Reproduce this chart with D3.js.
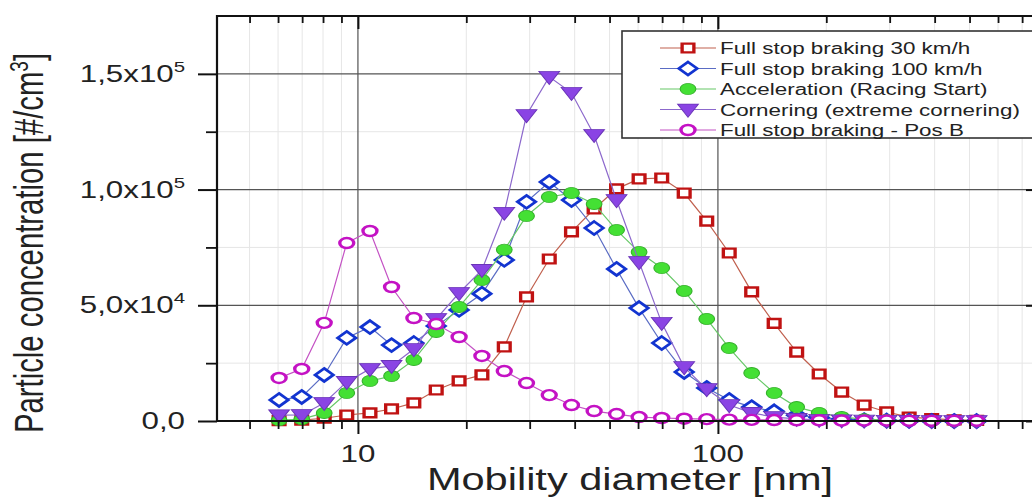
<!DOCTYPE html>
<html><head><meta charset="utf-8">
<script src="https://cdn.jsdelivr.net/npm/d3@7/dist/d3.min.js"></script>
<style>html,body{margin:0;padding:0;background:#fff;overflow:hidden}svg{display:block}</style>
</head><body><svg id="c" width="1032" height="498"></svg>
<script>
const diameters = [6.04, 6.98, 8.06, 9.31, 10.8, 12.4, 14.3, 16.5, 19.1, 22.1, 25.5, 29.4, 34.0, 39.2, 45.3, 52.3, 60.4, 69.8, 80.6, 93.1, 107.5, 124.1, 143.3, 165.5, 191.1, 220.7, 254.8, 294.3, 339.8, 392.4, 453.2, 523.3];
const brake30 = [200, 400, 1200, 2600, 3500, 5200, 7800, 13400, 17300, 19900, 32000, 53600, 70000, 81700, 91600, 100300, 104600, 105000, 98500, 86400, 72600, 55800, 42200, 29800, 20300, 12500, 6900, 3900, 1700, 1000, 500, 300];
const brake100 = [9100, 10400, 19900, 35900, 40600, 32800, 33700, 41000, 48000, 55000, 69600, 94700, 103300, 95500, 83400, 65700, 48800, 33700, 21200, 14300, 9100, 6000, 4200, 2500, 1500, 800, 400, 200, 100, 50, 20, 0];
const accel = [300, 800, 3500, 12100, 17300, 19400, 26400, 38500, 49300, 60900, 74000, 88600, 96800, 98500, 93800, 82500, 73000, 66100, 56200, 44100, 31500, 20700, 12100, 6000, 3500, 1700, 800, 400, 200, 100, 50, 0];
const cornering = [2500, 2600, 7800, 16900, 22500, 23800, 31100, 44100, 55300, 65300, 90000, 132200, 148700, 141800, 123600, 95500, 68700, 42400, 23300, 13800, 6900, 3500, 1700, 900, 500, 300, 200, 100, 50, 0, 0, 0];
const posB = [18600, 22500, 42400, 76900, 82100, 57900, 44500, 41900, 36300, 28100, 21600, 16400, 11200, 6900, 4300, 3000, 1700, 1300, 1000, 800, 600, 500, 400, 300, 300, 200, 200, 200, 100, 100, 100, 100];
const seriesNames = ["Full stop braking 30 km/h", "Full stop braking 100 km/h", "Acceleration (Racing Start)", "Cornering (extreme cornering)", "Full stop braking - Pos B"];
const xMajorTicks = [10, 100];
const xMinorTicks = [5, 6, 7, 8, 9, 20, 30, 40, 50, 60, 70, 80, 90, 200, 300, 400, 500, 600, 700];
const yMajorTicks = [0, 50000, 100000, 150000];
const yMinorTicks = [25000, 75000, 125000];
const yTickMain = ["0,0", "5,0x10", "1,0x10", "1,5x10"];
const yTickExp = ["", "4", "5", "5"];

const SX = 1.36, MSX = 1.4;
const FONT = "'Liberation Sans', Arial, sans-serif";
const svg = d3.select("#c");
const L = 217, R = 1035, T = 16, B = 421;
const x = d3.scaleLog().domain([4.06, 760]).range([L, R]);
const y = d3.scaleLinear().domain([0, 175000]).range([B, T]);

// grid
const grid = svg.append("g");
grid.selectAll(".vmin").data(xMinorTicks).join("line")
  .attr("x1", d => x(d)).attr("x2", d => x(d)).attr("y1", T).attr("y2", B)
  .attr("stroke", "#e6e6e6").attr("stroke-width", 1);
grid.selectAll(".hmin").data(yMinorTicks).join("line")
  .attr("x1", L).attr("x2", R).attr("y1", d => y(d)).attr("y2", d => y(d))
  .attr("stroke", "#e6e6e6").attr("stroke-width", 1);
grid.selectAll(".vmaj").data(xMajorTicks).join("line")
  .attr("x1", d => x(d)).attr("x2", d => x(d)).attr("y1", T).attr("y2", B)
  .attr("stroke", "#606060").attr("stroke-width", 1.3);
grid.selectAll(".hmaj").data(yMajorTicks.slice(1)).join("line")
  .attr("x1", L).attr("x2", R).attr("y1", d => y(d)).attr("y2", d => y(d))
  .attr("stroke", "#555").attr("stroke-width", 1.3);

// series
const colors = [
  {line: "#c0604e", stroke: "#c01212", fill: "#fff", sw: 2.4},
  {line: "#5a6cc4", stroke: "#1234d0", fill: "#fff", sw: 2.4},
  {line: "#66c866", stroke: "#34b02a", fill: "#44e034", sw: 0.8},
  {line: "#8c68cc", stroke: "#6a34b8", fill: "#8a44e4", sw: 0.8},
  {line: "#c452c4", stroke: "#c412c4", fill: "#fff", sw: 2.4}
];
const shapes = [
  "M-4.2,-4.4L4.2,-4.4L4.2,4.4L-4.2,4.4Z",
  "M0,-6.5L6.5,0L0,6.5L-6.5,0Z",
  "M5.6,0A5.6,5.6 0 1,1 -5.6,0A5.6,5.6 0 1,1 5.6,0Z",
  "M-7.4,-5.4L7.4,-5.4L0,7.6Z",
  "M5,0A5,5 0 1,1 -5,0A5,5 0 1,1 5,0Z"
];
const allSeries = [brake30, brake100, accel, cornering, posB];
const line = d3.line().x(d => x(d.d)).y(d => y(d.v));
allSeries.forEach((vals, i) => {
  const pts = diameters.map((d, j) => ({d, v: vals[j]}));
  const g = svg.append("g");
  g.append("path").attr("d", line(pts)).attr("fill", "none")
    .attr("stroke", colors[i].line).attr("stroke-width", 1.2);
  g.selectAll("path.m").data(pts).join("path").attr("class", "m")
    .attr("d", shapes[i])
    .attr("transform", d => `translate(${x(d.d)},${y(d.v)}) scale(${MSX},1)`)
    .attr("fill", colors[i].fill).attr("stroke", colors[i].stroke)
    .attr("stroke-width", colors[i].sw);
});

// axes
function styleAxis(g, w) {
  g.select(".domain").remove();
  g.selectAll(".tick line").attr("stroke", "#111").attr("stroke-width", w);
  g.selectAll(".tick text").remove();
}
svg.append("g").attr("transform", `translate(0,${B})`)
  .call(d3.axisBottom(x).tickValues(xMajorTicks).tickSize(13).tickFormat("")).call(g => styleAxis(g, 2));
svg.append("g").attr("transform", `translate(0,${B})`)
  .call(d3.axisBottom(x).tickValues(xMinorTicks).tickSize(8).tickFormat("")).call(g => styleAxis(g, 1.8));
svg.append("g").attr("transform", `translate(0,${T})`)
  .call(d3.axisBottom(x).tickValues(xMajorTicks).tickSize(13).tickFormat("")).call(g => styleAxis(g, 2));
svg.append("g").attr("transform", `translate(0,${T})`)
  .call(d3.axisBottom(x).tickValues(xMinorTicks).tickSize(7).tickFormat("")).call(g => styleAxis(g, 1.8));
svg.append("g").attr("transform", `translate(${L},0)`)
  .call(d3.axisLeft(y).tickValues(yMajorTicks).tickSize(19).tickFormat("")).call(g => styleAxis(g, 2));
svg.append("g").attr("transform", `translate(${L},0)`)
  .call(d3.axisLeft(y).tickValues(yMinorTicks).tickSize(11).tickFormat("")).call(g => styleAxis(g, 1.8));
svg.append("g").attr("transform", `translate(${R},0)`)
  .call(d3.axisLeft(y).tickValues(yMajorTicks).tickSize(9).tickFormat("")).call(g => styleAxis(g, 2));

svg.append("line").attr("x1", L).attr("x2", L).attr("y1", T - 1).attr("y2", B + 1).attr("stroke", "#111").attr("stroke-width", 2.2);
svg.append("line").attr("x1", L).attr("x2", R).attr("y1", B).attr("y2", B).attr("stroke", "#111").attr("stroke-width", 2.2);
svg.append("line").attr("x1", L).attr("x2", R).attr("y1", T).attr("y2", T).attr("stroke", "#111").attr("stroke-width", 2);

// tick labels
yMajorTicks.forEach((v, i) => {
  const t = svg.append("text").attr("transform", `translate(185,${y(v) + 8}) scale(${SX},1)`)
    .attr("text-anchor", "end").attr("font-family", FONT).attr("font-size", 23).attr("fill", "#222");
  t.append("tspan").text(yTickMain[i]);
  if (yTickExp[i]) t.append("tspan").attr("font-size", 15).attr("dy", -10).text(yTickExp[i]);
});
xMajorTicks.forEach(v => {
  svg.append("text").attr("transform", `translate(${x(v)},462) scale(${SX},1)`)
    .attr("text-anchor", "middle").attr("font-family", FONT).attr("font-size", 23).attr("fill", "#222")
    .text(d3.format("d")(v));
});

// axis titles
svg.append("text").attr("transform", `translate(630,490) scale(1.34,1)`)
  .attr("text-anchor", "middle").attr("font-family", FONT).attr("font-size", 31).attr("fill", "#222")
  .text("Mobility diameter [nm]");
const yt = svg.append("text").attr("transform", `translate(43,243) scale(1.4,1) rotate(-90)`)
  .attr("text-anchor", "middle").attr("font-family", FONT).attr("font-size", 29.3).attr("fill", "#222");
yt.append("tspan").text("Particle concentration [#/cm");
yt.append("tspan").attr("font-size", 19).attr("dy", -11).text("3");
yt.append("tspan").attr("dy", 11).text("]");

// legend
const lg = svg.append("g");
lg.append("rect").attr("x", 622).attr("y", 31).attr("width", 430).attr("height", 107)
  .attr("fill", "#fff").attr("stroke", "#333").attr("stroke-width", 1.6);
seriesNames.forEach((name, i) => {
  const cy = 48 + i * 20.5;
  lg.append("line").attr("x1", 660).attr("x2", 716).attr("y1", cy).attr("y2", cy)
    .attr("stroke", colors[i].line).attr("stroke-width", 1.2);
  lg.append("path").attr("d", shapes[i]).attr("transform", `translate(688,${cy}) scale(${MSX},1)`)
    .attr("fill", colors[i].fill).attr("stroke", colors[i].stroke).attr("stroke-width", colors[i].sw);
  lg.append("text").attr("transform", `translate(720,${cy + 6}) scale(1.4,1)`)
    .attr("font-family", FONT).attr("font-size", 16).attr("fill", "#222").text(name);
});
</script></body></html>
